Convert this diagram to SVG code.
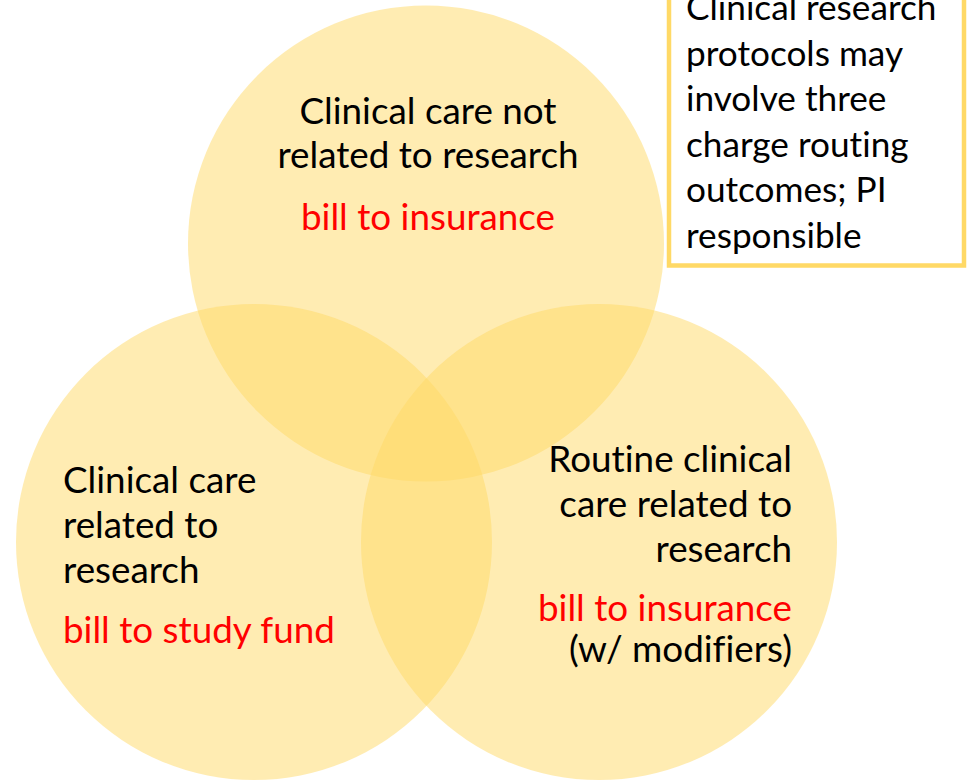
<svg xmlns="http://www.w3.org/2000/svg" width="968" height="780" viewBox="0 0 968 780">
<style>
.c{fill:#FFD966;fill-opacity:0.5;stroke:none}
text{font-family:Lato,"Liberation Sans",sans-serif;font-variant-ligatures:none}
.lbl{font-size:36.8px;fill:#000}
.red{font-size:36.8px;fill:#FF0000}
.note{font-size:35.2px;fill:#000}
</style>
<rect width="968" height="780" fill="#FFFFFF"/>
<g id="connectors"/>
<g id="node-not-related">
<circle class="c" cx="426" cy="243.5" r="238"/>
<text class="lbl" x="428" y="124" text-anchor="middle">Clinical care not</text>
<text class="lbl" x="428" y="168" text-anchor="middle">related to research</text>
<text class="red" x="428" y="230" text-anchor="middle">bill to insurance</text>
</g>
<g id="node-related">
<circle class="c" cx="254" cy="542" r="238"/>
<text class="lbl" x="63" y="493">Clinical care</text>
<text class="lbl" x="63" y="538">related to</text>
<text class="lbl" x="63" y="583">research</text>
<text class="red" x="63" y="643">bill to study fund</text>
</g>
<g id="node-routine">
<circle class="c" cx="599" cy="542" r="238"/>
<text class="lbl" x="792" y="472" text-anchor="end">Routine clinical</text>
<text class="lbl" x="792" y="517" text-anchor="end">care related to</text>
<text class="lbl" x="792" y="562" text-anchor="end">research</text>
<text class="red" x="792" y="621" text-anchor="end">bill to insurance</text>
<text class="lbl" x="792" y="662" text-anchor="end">(w/ modifiers)</text>
</g>
<g id="note">
<rect x="669" y="-20" width="295" height="285.5" fill="#FFFFFF" stroke="#FFD966" stroke-width="4.5"/>
<text class="note" x="686" y="20">Clinical research</text>
<text class="note" x="686" y="66">protocols may</text>
<text class="note" x="686" y="111">involve three</text>
<text class="note" x="686" y="157">charge routing</text>
<text class="note" x="686" y="202">outcomes; PI</text>
<text class="note" x="686" y="248">responsible</text>
</g>
</svg>
